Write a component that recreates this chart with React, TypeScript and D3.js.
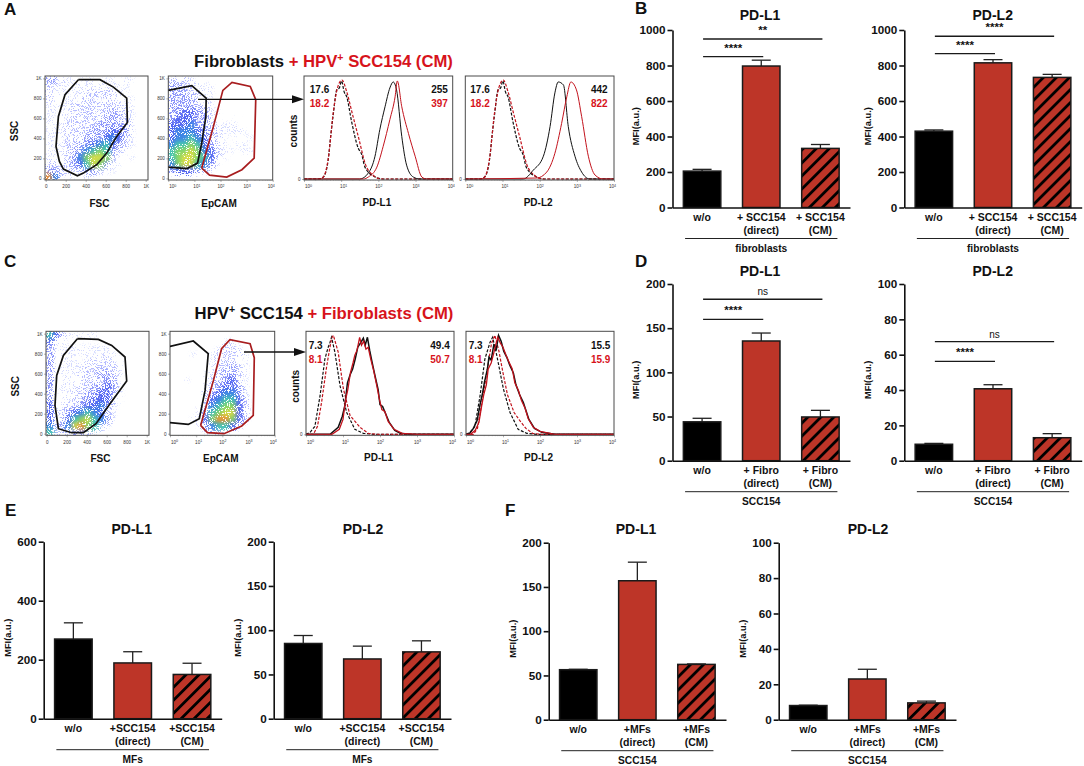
import { useEffect, useRef } from "react";
import * as d3 from "d3";

const FONT = "'Liberation Sans', Arial, sans-serif";
const INK = "#111";
const RED_BAR = "#bd3528";
const RED_TEXT = "#d7131b";
const RED_LINE = "#c2121c";
const RED_GATE = "#a81d1f";

// ---- bar values (means and top of the error whisker)
const fibroCategories = ["w/o", "+ SCC154|(direct)", "+ SCC154|(CM)"];
const sccFibroCategories = ["w/o", "+ Fibro|(direct)", "+ Fibro|(CM)"];
const mfCategories = ["w/o", "+SCC154|(direct)", "+SCC154|(CM)"];
const sccMfCategories = ["w/o", "+MFs|(direct)", "+MFs|(CM)"];

const bL1Values = [205, 797, 333];
const bL1Errors = [215, 830, 355];
const bL2Values = [430, 815, 733];
const bL2Errors = [437, 833, 750];
const dL1Values = [44, 135.5, 49.5];
const dL1Errors = [48, 144.5, 57];
const dL2Values = [9.3, 40.7, 13];
const dL2Errors = [9.8, 43, 15.3];
const eL1Values = [270, 189, 150];
const eL1Errors = [325, 227, 188];
const eL2Values = [85, 67.5, 75.5];
const eL2Errors = [94, 82, 88];
const fL1Values = [56.5, 157, 62.5];
const fL1Errors = [57, 178, 63];
const fL2Values = [8, 23, 9.5];
const fL2Errors = [8.2, 28.5, 10.5];

const ticks1000 = [0, 200, 400, 600, 800, 1000];
const ticks200 = [0, 50, 100, 150, 200];
const ticks100 = [0, 20, 40, 60, 80, 100];
const ticks600 = [0, 200, 400, 600];

// significance brackets: [from bar, to bar, level, label]
const bL1Sig: [number, number, number, string][] = [[0, 1, 850, "****"], [0, 2, 949, "**"]];
const bL2Sig: [number, number, number, string][] = [[0, 1, 867, "****"], [0, 2, 965, "****"]];
const dL1Sig: [number, number, number, string][] = [[0, 1, 160, "****"], [0, 2, 182.7, "ns"]];
const dL2Sig: [number, number, number, string][] = [[0, 1, 56.2, "****"], [0, 2, 67.4, "ns"]];

// ---- flow cytometry: density read cell by cell (0 empty .. 9 hottest)
const densityA1 = [
  "3321111111111100",
  "2111111111111000",
  "2111112222211000",
  "2111122222211100",
  "1111222222221100",
  "1111222222322100",
  "1111222223332100",
  "1112222233333100",
  "1112222333443100",
  "1112223334542100",
  "1112233456432100",
  "1112335676321000",
  "1112357887210100",
  "2212346873110000",
  "3322223321100000",
  "9521111000000000",
];
const densityA2 = [
  "2221100000000000",
  "3322111000000000",
  "3332211000000000",
  "3333211000000000",
  "3333221000000000",
  "3344331100000000",
  "3444332100100000",
  "4445332111100000",
  "4555433211110000",
  "4556543210101000",
  "5667643210110000",
  "6778754211011000",
  "6788764210000000",
  "5788653100000000",
  "3444321000000000",
  "0000000000000000",
];
const densityC1 = [
  "6421111100000000",
  "4110000000000000",
  "3111111111000000",
  "3011111111100000",
  "3011111222110000",
  "3011112222210000",
  "3011122233210000",
  "3011122233310000",
  "3011122334310000",
  "3011223344210000",
  "3011233444210000",
  "4012234453100000",
  "4123456542100000",
  "4124678653100000",
  "5235897621000000",
  "6222332110000000",
];
const densityC2 = [
  "0000000000000000",
  "0000000011000000",
  "0000000122100000",
  "0001001222210000",
  "0000001222110000",
  "0000001223210000",
  "0000011233210000",
  "0010012334210000",
  "0000012344310000",
  "0000023455310000",
  "0000024566420000",
  "0000125677420000",
  "0000136788420000",
  "0001247997420000",
  "0000135664200000",
  "0000012210000000",
];

type Pt = [number, number];

// gates, in axis units (FSC or log decades of EpCAM, SSC)
const gateA1: Pt[] = [[327, 987], [543, 987], [677, 913], [810, 803], [817, 560], [710, 420], [610, 253], [510, 137], [377, 53], [317, 27], [177, 93], [137, 170], [103, 320], [127, 620], [193, 837], [327, 987]];
const gateA2Black: Pt[] = [[0, 880], [0.9, 927], [1.45, 803], [1.44, 620], [1.28, 353], [1.12, 153], [0.71, 97], [0, 113]];
const gateA2Red: Pt[] = [[1.28, 103], [1.58, 33], [2.24, 13], [2.82, 87], [3.29, 203], [3.35, 787], [3.14, 920], [2.44, 960], [2.09, 880], [1.73, 520], [1.28, 103]];
const gateC1: Pt[] = [[307, 950], [517, 943], [650, 883], [783, 767], [800, 527], [633, 300], [493, 100], [367, 10], [250, 10], [117, 50], [83, 283], [100, 583], [167, 783], [307, 950]];
const gateC2Black: Pt[] = [[0, 873], [0.89, 927], [1.46, 800], [1.34, 433], [1.12, 150], [0.7, 93], [0, 110]];
const gateC2Red: Pt[] = [[1.17, 83], [1.43, 10], [2.06, 0], [2.74, 77], [3.18, 183], [3.22, 760], [3.06, 900], [2.29, 940], [1.97, 850], [1.66, 533], [1.17, 83]];

// histograms: [log decade, % of peak]
const aIsoBlack: Pt[] = [[0.39, 0], [0.52, 2], [0.65, 19], [0.72, 44], [0.79, 66], [0.88, 90], [0.95, 92], [1.01, 99], [1.08, 88], [1.15, 83], [1.28, 58], [1.46, 31], [1.55, 25], [1.64, 12], [1.87, 3], [2.13, 0]];
const aIsoRed: Pt[] = [[0.39, 0], [0.52, 2], [0.65, 20], [0.79, 68], [0.9, 92], [1.02, 100], [1.15, 88], [1.3, 66], [1.48, 40], [1.65, 15], [1.85, 4], [2.1, 0]];
const aL1Black: Pt[] = [[1.5, 0], [1.73, 6], [1.91, 23], [2.04, 50], [2.18, 73], [2.31, 92], [2.4, 98], [2.49, 90], [2.63, 43], [2.76, 14], [2.94, 2], [3.12, 0]];
const aL1Red: Pt[] = [[1.6, 0], [1.73, 2], [1.96, 12], [2.13, 33], [2.31, 60], [2.45, 83], [2.51, 99], [2.63, 73], [2.81, 46], [2.99, 23], [3.17, 2], [3.3, 0]];
const aL2Black: Pt[] = [[1.56, 0], [1.83, 9], [2.1, 23], [2.28, 53], [2.41, 87], [2.5, 98], [2.64, 95], [2.77, 53], [2.95, 23], [3.13, 7], [3.35, 0]];
const aL2Red: Pt[] = [[1.92, 1], [2.19, 7], [2.41, 26], [2.59, 56], [2.73, 83], [2.84, 98], [2.99, 90], [3.13, 63], [3.31, 23], [3.49, 4], [3.71, 0]];
const cL1IsoBlack: Pt[] = [[0.11, 2], [0.24, 8], [0.38, 39], [0.51, 76], [0.6, 88], [0.65, 93], [0.69, 98], [0.78, 83], [0.92, 49], [1.1, 22], [1.32, 5], [1.55, 1], [1.82, 0]];
const cL1IsoRed: Pt[] = [[0.2, 0], [0.31, 8], [0.42, 32], [0.56, 69], [0.69, 97], [0.74, 100], [0.87, 83], [1.01, 46], [1.19, 19], [1.46, 7], [1.68, 1], [1.91, 0]];
const cL1Black: Pt[] = [[0.65, 0], [0.87, 7], [0.98, 18], [1.05, 29], [1.12, 52], [1.19, 60], [1.26, 66], [1.33, 76], [1.4, 88], [1.47, 92], [1.55, 97], [1.6, 90], [1.66, 98], [1.72, 85], [1.78, 74], [1.86, 60], [1.95, 45], [2.0, 30], [2.07, 28], [2.15, 21], [2.25, 12], [2.4, 4], [2.55, 1], [2.8, 0]];
const cL1Red: Pt[] = [[0.7, 0], [0.9, 5], [1.0, 15], [1.07, 35], [1.13, 45], [1.2, 62], [1.27, 72], [1.32, 80], [1.38, 85], [1.45, 98], [1.5, 90], [1.56, 94], [1.62, 86], [1.68, 88], [1.75, 76], [1.83, 64], [1.92, 48], [1.98, 36], [2.05, 25], [2.13, 23], [2.22, 13], [2.38, 5], [2.6, 1], [3.0, 0]];
const cL2IsoBlack: Pt[] = [[0.11, 2], [0.24, 8], [0.38, 39], [0.51, 76], [0.65, 93], [0.72, 98], [0.83, 80], [1.01, 46], [1.19, 22], [1.41, 5], [1.64, 1], [1.91, 0]];
const cL2IsoRed: Pt[] = [[0.2, 0], [0.31, 6], [0.42, 30], [0.56, 62], [0.69, 92], [0.78, 100], [0.89, 84], [1.0, 62], [1.12, 40], [1.3, 22], [1.45, 14], [1.62, 6], [1.8, 1], [2.0, 0]];
const cL2Black: Pt[] = [[0.1, 1], [0.2, 6], [0.3, 14], [0.38, 30], [0.45, 42], [0.5, 53], [0.58, 66], [0.62, 78], [0.68, 75], [0.75, 90], [0.82, 86], [0.88, 100], [0.95, 94], [1.02, 84], [1.1, 78], [1.18, 70], [1.28, 62], [1.35, 50], [1.45, 40], [1.55, 32], [1.62, 24], [1.7, 15], [1.85, 6], [2.05, 2], [2.4, 0]];
const cL2Red: Pt[] = [[0.12, 0], [0.25, 4], [0.35, 12], [0.42, 28], [0.48, 40], [0.55, 50], [0.6, 66], [0.68, 72], [0.75, 82], [0.8, 90], [0.86, 98], [0.93, 92], [1.0, 88], [1.08, 80], [1.15, 74], [1.25, 66], [1.32, 52], [1.42, 44], [1.5, 34], [1.6, 26], [1.68, 16], [1.82, 7], [2.0, 3], [2.4, 0]];

const scatterTicks = [0, 200, 400, 600, 800, 1000];
const logTicks = [1, 10, 100, 1000, 10000];
const minorTicks = [1, 10, 100, 1000].flatMap((k) => [2, 3, 4, 5, 6, 7, 8, 9].map((m) => m * k));

const densityColor = d3
  .scaleLinear<string>()
  .domain([1, 2, 3, 4, 5, 6, 7, 8, 9])
  .range(["#d3d7ff", "#b4baff", "#8a94fb", "#5566f2", "#3f86e6", "#46c4b4", "#86d668", "#d6dc48", "#ee8f34"]);
const densityAlpha = d3.scaleLinear().domain([0, 1, 2, 3, 4, 5, 9]).range([0, 0.16, 0.32, 0.5, 0.72, 1, 1]);

type Sel = d3.Selection<any, any, any, any>;

function addText(g: Sel, x: number, y: number, str: string, size: number, opts: any = {}) {
  return g
    .append("text")
    .attr("x", x)
    .attr("y", y)
    .attr("text-anchor", opts.anchor ?? "middle")
    .attr("font-family", FONT)
    .attr("font-weight", opts.weight ?? "bold")
    .attr("font-size", size)
    .attr("fill", opts.fill ?? INK)
    .attr("transform", opts.rotate ? `rotate(-90 ${x} ${y})` : null)
    .text(str);
}

function barPanel(svg: Sel, p: any) {
  const g = svg.append("g");
  const y = d3.scaleLinear().domain([0, p.max]).range([p.base, p.top]);
  const x = d3
    .scaleBand()
    .domain(p.categories)
    .range([p.axisX, p.endX])
    .paddingInner(0.367)
    .paddingOuter(0.1835);
  const mid = (i: number) => (x(p.categories[i]) as number) + x.bandwidth() / 2;

  // error whiskers go first so the bar hides the lower half
  p.categories.forEach((c: string, i: number) => {
    const cx = mid(i);
    g.append("line").attr("x1", cx).attr("x2", cx).attr("y1", y(p.values[i])).attr("y2", y(p.errors[i]))
      .attr("stroke", "#222").attr("stroke-width", 1.3);
    g.append("line").attr("x1", cx - 9.5).attr("x2", cx + 9.5).attr("y1", y(p.errors[i])).attr("y2", y(p.errors[i]))
      .attr("stroke", "#222").attr("stroke-width", 1.3);
  });

  const fills = ["#000", RED_BAR, "url(#hatch)"];
  g.selectAll("rect.bar")
    .data(p.values as number[])
    .join("rect")
    .attr("class", "bar")
    .attr("x", (_d, i) => x(p.categories[i]) as number)
    .attr("y", (d) => y(d))
    .attr("width", x.bandwidth())
    .attr("height", (d) => p.base - y(d))
    .attr("fill", (_d, i) => fills[i])
    .attr("stroke", "#1a1a1a")
    .attr("stroke-width", 1.5);

  const yAxis = g
    .append("g")
    .attr("transform", `translate(${p.axisX},0)`)
    .call(d3.axisLeft(y).tickValues(p.ticks).tickSize(5).tickSizeOuter(0).tickPadding(2).tickFormat((d) => String(d)));
  yAxis.selectAll("path,line").attr("stroke", INK).attr("stroke-width", 1.6);
  yAxis.selectAll("text").attr("font-family", FONT).attr("font-weight", "bold").attr("font-size", 11.7).attr("fill", INK);

  const xAxis = g
    .append("g")
    .attr("transform", `translate(0,${p.base})`)
    .call(d3.axisBottom(x).tickSize(0).tickPadding(0));
  xAxis.selectAll("path").attr("stroke", INK).attr("stroke-width", 1.6);
  xAxis.selectAll("text").each(function (d: any) {
    const t = d3.select(this);
    t.text(null).attr("y", 0).attr("dy", null).attr("font-family", FONT).attr("font-weight", "bold").attr("font-size", 10.5).attr("fill", INK);
    String(d).split("|").forEach((line, i) => {
      t.append("tspan").attr("x", 0).attr("y", 13 + i * 13).text(line);
    });
  });

  // group rule and name under the categories
  g.append("line").attr("x1", mid(0) - 17).attr("x2", mid(2) + 17).attr("y1", p.base + 31).attr("y2", p.base + 31)
    .attr("stroke", "#222").attr("stroke-width", 1);
  addText(g, (mid(0) + mid(2)) / 2, p.base + 44, p.group, 10.2);

  addText(g, p.titleX, p.titleY, p.title, 14);
  addText(g, p.axisX - 35.5, (p.top + p.base) / 2 + 7.5, "MFI(a.u.)", 9.3, { rotate: true }).attr("dominant-baseline", "middle");

  (p.sig ?? []).forEach(([a, b, level, label]: [number, number, number, string]) => {
    const x1 = mid(a) + 1;
    const x2 = mid(b) + 2;
    g.append("line").attr("x1", x1).attr("x2", x2).attr("y1", y(level)).attr("y2", y(level))
      .attr("stroke", "#1a1a1a").attr("stroke-width", 1.4);
    const ns = label === "ns";
    addText(g, (x1 + x2) / 2, y(level) - (ns ? 4 : 5), label, ns ? 10 : 11.5, { weight: ns ? "normal" : "bold" });
  });
}

function frameAxes(g: Sel, box: any, x: any, y: any, xTicks: number[], xFmt: any, yTicks: number[], yFmt: any, logX: boolean) {
  const xAxis = g
    .append("g")
    .attr("transform", `translate(0,${box.y + box.h})`)
    .call(d3.axisBottom(x).tickValues(xTicks).tickSize(2).tickSizeOuter(0).tickPadding(3).tickFormat(xFmt));
  xAxis.select("path").remove();
  xAxis.selectAll("line").attr("stroke", "#666").attr("stroke-width", 0.5);
  xAxis.selectAll("text").attr("font-family", FONT).attr("font-size", 4.6).attr("fill", "#333");
  if (logX) {
    xAxis.selectAll("text").each(function (d: any) {
      const t = d3.select(this);
      t.text("10");
      t.append("tspan").attr("dy", -1.6).attr("font-size", 3.6).text(String(Math.round(Math.log10(d))));
      if (d === 1) t.attr("dx", 4);
      if (d === 10) t.attr("dx", 2);
      if (d === 10000) t.attr("dx", -2);
    });
    const minor = g
      .append("g")
      .attr("transform", `translate(0,${box.y + box.h})`)
      .call(d3.axisBottom(x).tickValues(minorTicks).tickSize(1).tickSizeOuter(0).tickFormat(() => ""));
    minor.select("path").remove();
    minor.selectAll("line").attr("stroke", "#888").attr("stroke-width", 0.3);
  }
  const yAxis = g
    .append("g")
    .attr("transform", `translate(${box.x},0)`)
    .call(d3.axisLeft(y).tickValues(yTicks).tickSize(2).tickSizeOuter(0).tickPadding(1.5).tickFormat(yFmt));
  yAxis.select("path").remove();
  yAxis.selectAll("line").attr("stroke", "#666").attr("stroke-width", 0.5);
  yAxis.selectAll("text").attr("font-family", FONT).attr("font-size", 4.6).attr("fill", "#333");
  g.append("rect").attr("x", box.x).attr("y", box.y).attr("width", box.w).attr("height", box.h)
    .attr("fill", "none").attr("stroke", "#4a4a4a").attr("stroke-width", 1);
}

function scatterPanel(svg: Sel, p: any) {
  const g = svg.append("g");
  const { box } = p;
  const clipId = `clip-${p.id}`;
  svg.select("defs").append("clipPath").attr("id", clipId).append("rect")
    .attr("x", box.x).attr("y", box.y).attr("width", box.w).attr("height", box.h);
  const y = d3.scaleLinear().domain([0, 1000]).range([box.y + box.h - 1.6, box.y + box.h - 1.6 - 100]);
  const x = p.log
    ? d3.scaleLog().domain([1, 10000]).range([box.x, box.x + box.w])
    : d3.scaleLinear().domain([0, 1000]).range([box.x + 0.7, box.x + 100.7]);

  const cols = d3.scaleBand<number>().domain(d3.range(16)).range([box.x, box.x + box.w]);
  const rows = d3.scaleBand<number>().domain(d3.range(16)).range([box.y, box.y + box.h]);
  const cells = (p.density as string[]).flatMap((row, r) => row.split("").map((v, c) => ({ r, c, v: +v })));
  g.append("g")
    .attr("clip-path", `url(#${clipId})`)
    .append("g")
    .attr("filter", "url(#speckle)")
    .selectAll("rect")
    .data(cells.filter((d) => d.v > 0))
    .join("rect")
    .attr("x", (d) => cols(d.c) as number)
    .attr("y", (d) => rows(d.r) as number)
    .attr("width", cols.bandwidth() + 0.5)
    .attr("height", rows.bandwidth() + 0.5)
    .attr("fill", (d) => densityColor(d.v))
    .attr("fill-opacity", (d) => densityAlpha(d.v));

  frameAxes(
    g, box, x, y,
    p.log ? logTicks : scatterTicks,
    p.log ? () => "10" : (d: number) => (d === 1000 ? "1K" : String(d)),
    scatterTicks,
    (d: number) => (d === 1000 ? "1K" : String(d)),
    p.log,
  );

  const gateLine = d3
    .line<Pt>()
    .x((d) => (p.log ? (x as any)(10 ** d[0]) : (x as any)(d[0])))
    .y((d) => y(d[1]));
  const gates = g.append("g").attr("clip-path", `url(#${clipId})`);
  (p.gates as [Pt[], string][]).forEach(([pts, color]) => {
    gates.append("path").attr("d", gateLine(pts)).attr("fill", "none").attr("stroke", color).attr("stroke-width", 1.7);
  });

  addText(g, box.x + box.w / 2 + p.labelDx, box.y + box.h + 26.5, p.label, 10);
  if (p.yLabel) addText(g, box.x - 30, box.y + box.h / 2 + 3, p.yLabel, 10, { rotate: true }).attr("dominant-baseline", "middle");
}

function histPanel(svg: Sel, p: any) {
  const g = svg.append("g");
  const { box } = p;
  const clipId = `clip-${p.id}`;
  svg.select("defs").append("clipPath").attr("id", clipId).append("rect")
    .attr("x", box.x).attr("y", box.y).attr("width", box.w).attr("height", box.h);
  const x = d3.scaleLog().domain([1, 10000]).range([box.x, box.x + box.w]);
  const y = d3.scaleLinear().domain([0, 100]).range([box.y + box.h - 1, box.y + box.h - 100]);
  const line = d3
    .line<Pt>()
    .x((d) => x(10 ** d[0]))
    .y((d) => y(d[1]))
    .curve(p.jagged ? d3.curveLinear : d3.curveMonotoneX);
  const curves = g.append("g").attr("clip-path", `url(#${clipId})`);
  const widen = (pts: Pt[]): Pt[] => [[0, 0], ...pts, [4, 0]];
  curves.append("path").attr("d", line(widen(p.isoBlack))).attr("fill", "none").attr("stroke", "#111").attr("stroke-width", 1.2).attr("stroke-dasharray", "3 1.6");
  curves.append("path").attr("d", line(widen(p.isoRed))).attr("fill", "none").attr("stroke", RED_LINE).attr("stroke-width", 1.2).attr("stroke-dasharray", "3 1.6");
  curves.append("path").attr("d", line(widen(p.black))).attr("fill", "none").attr("stroke", "#111").attr("stroke-width", p.jagged ? 1.5 : 1);
  curves.append("path").attr("d", line(widen(p.red))).attr("fill", "none").attr("stroke", RED_LINE).attr("stroke-width", p.jagged ? 1.3 : 1);

  frameAxes(g, box, x, y, logTicks, () => "10", [0], (d: number) => String(d), true);

  addText(g, box.x + p.leftDx, box.y + p.textY, p.isoText[0], 10);
  addText(g, box.x + p.leftDx, box.y + p.textY + 14, p.isoText[1], 10, { fill: RED_TEXT });
  addText(g, box.x + p.rightDx, box.y + p.textY, p.valueText[0], 10);
  addText(g, box.x + p.rightDx, box.y + p.textY + 14, p.valueText[1], 10, { fill: RED_TEXT });
  addText(g, box.x + box.w / 2 - 1.5, box.y + box.h + 26, p.label, 10);
  if (p.yLabel) addText(g, box.x - 9.5, box.y + box.h / 2 + 3, p.yLabel, 10, { rotate: true }).attr("dominant-baseline", "middle");
}

function arrow(svg: Sel, x1: number, x2: number, y: number) {
  svg.append("line").attr("x1", x1).attr("x2", x2 - 10).attr("y1", y).attr("y2", y).attr("stroke", "#111").attr("stroke-width", 1.3);
  svg.append("path").attr("d", d3.line()([[x2 - 12, y - 4], [x2, y], [x2 - 12, y + 4]]) + "Z").attr("fill", "#111");
}

function mixedTitle(svg: Sel, x: number, y: number, parts: [string, string, boolean?][]) {
  const t = svg.append("text").attr("x", x).attr("y", y).attr("text-anchor", "middle").attr("font-family", FONT)
    .attr("font-weight", "bold").attr("font-size", 16.7);
  parts.forEach(([str, fill, sup], i) => {
    const s = t.append("tspan").attr("fill", fill).text(str);
    if (sup) s.attr("font-size", 10.5).attr("dy", -5.5);
    else if (i > 0 && parts[i - 1][2]) s.attr("dy", 5.5);
  });
}

function App() {
  const ref = useRef<SVGSVGElement>(null);

  useEffect(() => {
    const svg = d3.select(ref.current);
    svg.selectAll("*").remove();
    const defs = svg.append("defs");

    const hatch = defs.append("pattern").attr("id", "hatch").attr("patternUnits", "userSpaceOnUse")
      .attr("width", 9.2).attr("height", 9.2).attr("patternTransform", "rotate(45)");
    hatch.append("rect").attr("width", 9.2).attr("height", 9.2).attr("fill", RED_BAR);
    hatch.append("rect").attr("width", 2.8).attr("height", 9.2).attr("fill", "#000");

    // grainy dot look for the density cells
    const f = defs.append("filter").attr("id", "speckle").attr("x", "-5%").attr("y", "-5%").attr("width", "110%").attr("height", "110%")
      .attr("color-interpolation-filters", "sRGB");
    f.append("feGaussianBlur").attr("in", "SourceGraphic").attr("stdDeviation", 2.2).attr("result", "blur");
    f.append("feTurbulence").attr("type", "fractalNoise").attr("baseFrequency", 1.05).attr("numOctaves", 2).attr("seed", 4).attr("result", "turb");
    f.append("feColorMatrix").attr("in", "turb").attr("type", "matrix")
      .attr("values", "0 0 0 0 0  0 0 0 0 0  0 0 0 0 0  0 0 0 3.4 -1.2").attr("result", "noise");
    f.append("feComposite").attr("in", "blur").attr("in2", "noise").attr("operator", "arithmetic")
      .attr("k1", 0).attr("k2", 1).attr("k3", 1).attr("k4", -1).attr("result", "sum");
    const ct = f.append("feComponentTransfer").attr("in", "sum").attr("result", "mask");
    ct.append("feFuncA").attr("type", "linear").attr("slope", 5).attr("intercept", 0);
    const op = f.append("feComponentTransfer").attr("in", "blur").attr("result", "solid");
    op.append("feFuncA").attr("type", "table").attr("tableValues", "0 1 1 1 1 1 1 1 1 1 1 1");
    f.append("feComposite").attr("in", "solid").attr("in2", "mask").attr("operator", "in").attr("result", "dots");
    f.append("feGaussianBlur").attr("in", "dots").attr("stdDeviation", 0.45);

    // panel letters
    addText(svg, 4, 15, "A", 17, { anchor: "start" });
    addText(svg, 635, 14, "B", 17, { anchor: "start" });
    addText(svg, 4, 267, "C", 17, { anchor: "start" });
    addText(svg, 635, 267, "D", 17, { anchor: "start" });
    addText(svg, 5, 516, "E", 17, { anchor: "start" });
    addText(svg, 505, 516, "F", 17, { anchor: "start" });

    mixedTitle(svg, 323.5, 66.5, [
      ["Fibroblasts ", "#111"],
      ["+ HPV", RED_TEXT],
      ["+", RED_TEXT, true],
      [" SCC154 (CM)", RED_TEXT],
    ]);
    mixedTitle(svg, 324, 318.5, [
      ["HPV", "#111"],
      ["+", "#111", true],
      [" SCC154 ", "#111"],
      ["+ Fibroblasts (CM)", RED_TEXT],
    ]);

    // row A flow plots
    const rowA = { y: 76, h: 104 };
    scatterPanel(svg, { id: "a1", box: { x: 45, y: rowA.y, w: 103, h: rowA.h }, density: densityA1, gates: [[gateA1, "#111"]], label: "FSC", labelDx: 3, yLabel: "SSC" });
    scatterPanel(svg, { id: "a2", log: true, box: { x: 168.3, y: rowA.y, w: 104.4, h: rowA.h }, density: densityA2, gates: [[gateA2Black, "#111"], [gateA2Red, RED_GATE]], label: "EpCAM", labelDx: -1.5 });
    histPanel(svg, { id: "a3", box: { x: 304, y: rowA.y, w: 148.7, h: rowA.h }, isoBlack: aIsoBlack, isoRed: aIsoRed, black: aL1Black, red: aL1Red, isoText: ["17.6", "18.2"], valueText: ["255", "397"], leftDx: 15.5, rightDx: 135.5, textY: 16.5, label: "PD-L1", yLabel: "counts" });
    histPanel(svg, { id: "a4", box: { x: 465.3, y: rowA.y, w: 148.7, h: rowA.h }, isoBlack: aIsoBlack, isoRed: aIsoRed, black: aL2Black, red: aL2Red, isoText: ["17.6", "18.2"], valueText: ["442", "822"], leftDx: 14.7, rightDx: 134, textY: 16.5, label: "PD-L2" });
    arrow(svg, 198, 304, 99.3);

    // row C flow plots
    const rowC = { y: 331.3, h: 104 };
    scatterPanel(svg, { id: "c1", box: { x: 46, y: rowC.y, w: 103, h: rowC.h }, density: densityC1, gates: [[gateC1, "#111"]], label: "FSC", labelDx: 3, yLabel: "SSC" });
    scatterPanel(svg, { id: "c2", log: true, box: { x: 170, y: rowC.y, w: 104.7, h: rowC.h }, density: densityC2, gates: [[gateC2Black, "#111"], [gateC2Red, RED_GATE]], label: "EpCAM", labelDx: -1.5 });
    histPanel(svg, { id: "c3", jagged: true, box: { x: 306, y: rowC.y, w: 148, h: rowC.h }, isoBlack: cL1IsoBlack, isoRed: cL1IsoRed, black: cL1Black, red: cL1Red, isoText: ["7.3", "8.1"], valueText: ["49.4", "50.7"], leftDx: 9.7, rightDx: 134, textY: 17.7, label: "PD-L1", yLabel: "counts" });
    histPanel(svg, { id: "c4", jagged: true, box: { x: 466, y: rowC.y, w: 148, h: rowC.h }, isoBlack: cL2IsoBlack, isoRed: cL2IsoRed, black: cL2Black, red: cL2Red, isoText: ["7.3", "8.1"], valueText: ["15.5", "15.9"], leftDx: 9.7, rightDx: 134.7, textY: 17.7, label: "PD-L2" });
    arrow(svg, 244, 306, 352);

    // bar panels
    const topB = { top: 30, base: 207.5, titleY: 20 };
    const topD = { top: 284, base: 460.7, titleY: 276 };
    const topE = { top: 541.7, base: 718.7, titleY: 534 };
    const topF = { top: 542.7, base: 719.7, titleY: 534 };
    barPanel(svg, { ...topB, axisX: 672.5, endX: 850, max: 1000, ticks: ticks1000, categories: fibroCategories, values: bL1Values, errors: bL1Errors, sig: bL1Sig, group: "fibroblasts", title: "PD-L1", titleX: 760 });
    barPanel(svg, { ...topB, axisX: 904.3, endX: 1081.7, max: 1000, ticks: ticks1000, categories: fibroCategories, values: bL2Values, errors: bL2Errors, sig: bL2Sig, group: "fibroblasts", title: "PD-L2", titleX: 992.7 });
    barPanel(svg, { ...topD, axisX: 672.5, endX: 850, max: 200, ticks: ticks200, categories: sccFibroCategories, values: dL1Values, errors: dL1Errors, sig: dL1Sig, group: "SCC154", title: "PD-L1", titleX: 760 });
    barPanel(svg, { ...topD, axisX: 904.3, endX: 1081.7, max: 100, ticks: ticks100, categories: sccFibroCategories, values: dL2Values, errors: dL2Errors, sig: dL2Sig, group: "SCC154", title: "PD-L2", titleX: 992.7 });
    barPanel(svg, { ...topE, axisX: 43.7, endX: 221.7, max: 600, ticks: ticks600, categories: mfCategories, values: eL1Values, errors: eL1Errors, group: "MFs", title: "PD-L1", titleX: 131.7 });
    barPanel(svg, { ...topE, axisX: 273.7, endX: 451, max: 200, ticks: ticks200, categories: mfCategories, values: eL2Values, errors: eL2Errors, group: "MFs", title: "PD-L2", titleX: 363 });
    barPanel(svg, { ...topF, axisX: 548.7, endX: 726, max: 200, ticks: ticks200, categories: sccMfCategories, values: fL1Values, errors: fL1Errors, group: "SCC154", title: "PD-L1", titleX: 636 });
    barPanel(svg, { ...topF, axisX: 778.7, endX: 956, max: 100, ticks: ticks100, categories: sccMfCategories, values: fL2Values, errors: fL2Errors, group: "SCC154", title: "PD-L2", titleX: 868 });
  }, []);

  return (
    <svg
      ref={ref}
      width={1084}
      height={766}
      style={{ position: "absolute", left: 0, top: 0, background: "#fff" }}
    />
  );
}

export default App;
